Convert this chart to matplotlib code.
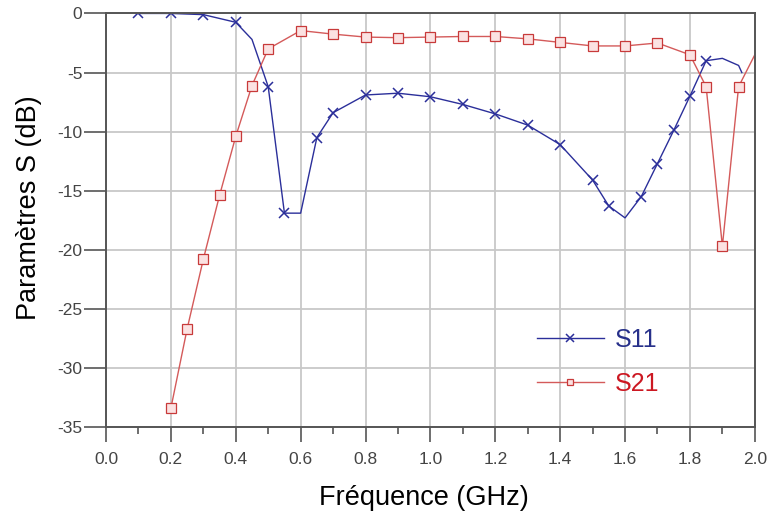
import matplotlib
matplotlib.use('Agg')
from matplotlib import pyplot as plt
from matplotlib.ticker import MultipleLocator

# S11 (x markers) - some points are only line vertices
s11_freq = [0.1, 0.2, 0.3, 0.4, 0.45, 0.5, 0.55, 0.6, 0.65, 0.7, 0.8, 0.9, 1.0, 1.1,
            1.2, 1.3, 1.4, 1.5, 1.55, 1.6, 1.65, 1.7, 1.75, 1.8, 1.85, 1.9, 1.95, 1.96]
s11_db = [0, 0, -0.1, -0.75, -2.2, -6.2, -16.9, -16.9, -10.5, -8.4, -6.9, -6.75, -7.05, -7.7,
          -8.5, -9.45, -11.1, -14.1, -16.3, -17.3, -15.5, -12.7, -9.9, -7.0, -4.0, -3.8, -4.4, -5.0]
s11_marked = [0, 1, 2, 3, 5, 6, 8, 9, 10, 11, 12, 13, 14, 15, 16, 17, 18, 20, 21, 22, 23, 24]

# S21 (square markers)
s21_freq = [0.2, 0.25, 0.3, 0.35, 0.4, 0.45, 0.5, 0.6, 0.7, 0.8, 0.9, 1.0, 1.1, 1.2,
            1.3, 1.4, 1.5, 1.6, 1.7, 1.8, 1.85, 1.9, 1.95, 2.0]
s21_db = [-33.4, -26.7, -20.8, -15.4, -10.4, -6.1, -3.0, -1.45, -1.75, -2.0, -2.05, -2.0, -1.95, -1.95,
          -2.15, -2.45, -2.75, -2.75, -2.5, -3.5, -6.2, -19.7, -6.2, -3.5]
s21_marked = list(range(len(s21_freq) - 1))

plt.rcParams['font.family'] = ['Liberation Sans', 'DejaVu Sans']
plt.rcParams['axes.unicode_minus'] = False

fig = plt.figure(figsize=(7.71, 5.17), dpi=100)
ax = fig.add_axes([0.1375, 0.174, 0.8415, 0.8])

ax.plot(s11_freq, s11_db, color='#2b2f9a', lw=1.0, marker='x', ms=7, mew=1.1,
        markevery=s11_marked, label='S11')
ax.plot(s21_freq, s21_db, color='#d45a5a', lw=1.0, marker='s', ms=6.5, mew=0.9,
        mfc='#fbe2e2', mec='#c83a3a', markevery=s21_marked, label='S21')

ax.set_xlim(0, 2.0)
ax.set_ylim(-35, 0)
ax.xaxis.set_major_locator(MultipleLocator(0.2))
ax.xaxis.set_minor_locator(MultipleLocator(0.1))
ax.yaxis.set_major_locator(MultipleLocator(5))
ax.xaxis.set_major_formatter(plt.FormatStrFormatter('%.1f'))
ax.grid(True, which='major', color='#c8c8c8', lw=1.3)
ax.set_axisbelow(True)

ax.tick_params(axis='both', which='major', width=1.2, color='#555555',
               labelsize=12.5, labelcolor='#444444', direction='out')
ax.tick_params(axis='y', which='major', length=16, pad=1)
ax.tick_params(axis='x', which='major', length=11, pad=7)
ax.tick_params(axis='x', which='minor', length=5, width=1.2, color='#555555')
for s in ax.spines.values():
    s.set_color('#555555')
    s.set_linewidth(1.4)

ax.set_xlabel('Fréquence (GHz)', fontsize=19.5)
ax.set_ylabel('Paramètres S (dB)', fontsize=19.5)
ax.xaxis.set_label_coords(0.49, -0.14)
ax.yaxis.set_label_coords(-0.098, 0.53)

leg = ax.legend(loc='center left', bbox_to_anchor=(514 / 771, 1 - 362 / 517),
                bbox_transform=fig.transFigure, frameon=False, fontsize=18,
                handlelength=2.7, handletextpad=0.45, labelspacing=0.8,
                markerscale=0.75)
for t, c in zip(leg.get_texts(), ['#27308a', '#cc1822']):
    t.set_color(c)

plt.savefig('out.png')
